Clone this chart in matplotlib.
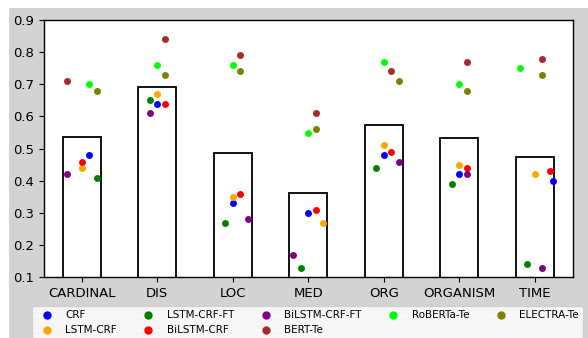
import numpy as np
import matplotlib
matplotlib.use('Agg')
import matplotlib.pyplot as plt
from matplotlib.lines import Line2D
from matplotlib.patches import Rectangle

categories = ['CARDINAL', 'DIS', 'LOC', 'MED', 'ORG', 'ORGANISM', 'TIME']
models = ['CRF', 'LSTM-CRF', 'LSTM-CRF-FT', 'BiLSTM-CRF',
          'BiLSTM-CRF-FT', 'BERT-Te', 'RoBERTa-Te', 'ELECTRA-Te']
colors = ['blue', 'orange', 'green', 'red',
          'purple', 'brown', 'lime', 'olive']

# scores per model, one value per category
crf = [0.48, 0.64, 0.33, 0.30, 0.48, 0.42, 0.40]
lstm_crf = [0.44, 0.67, 0.35, 0.27, 0.51, 0.45, 0.42]
lstm_crf_ft = [0.41, 0.65, 0.27, 0.13, 0.44, 0.39, 0.14]
bilstm_crf = [0.46, 0.64, 0.36, 0.31, 0.49, 0.44, 0.43]
bilstm_crf_ft = [0.42, 0.61, 0.28, 0.17, 0.46, 0.42, 0.13]
bert_te = [0.71, 0.84, 0.79, 0.61, 0.74, 0.77, 0.78]
roberta_te = [0.70, 0.76, 0.76, 0.55, 0.77, 0.70, 0.75]
electra_te = [0.68, 0.73, 0.74, 0.56, 0.71, 0.68, 0.73]
scores = [crf, lstm_crf, lstm_crf_ft, bilstm_crf,
          bilstm_crf_ft, bert_te, roberta_te, electra_te]

# strip jitter (category units)
jitter = [
    [0.1, 0.0, 0.0, 0.0, 0.0, 0.0, 0.24],
    [0.0, 0.0, 0.0, 0.2, 0.0, 0.0, 0.0],
    [0.2, -0.1, -0.1, -0.1, -0.1, -0.1, -0.1],
    [0.0, 0.1, 0.1, 0.1, 0.1, 0.1, 0.2],
    [-0.2, -0.1, 0.2, -0.2, 0.2, 0.1, 0.1],
    [-0.2, 0.1, 0.1, 0.1, 0.1, 0.1, 0.1],
    [0.1, 0.0, 0.0, 0.0, 0.0, 0.0, -0.2],
    [0.2, 0.1, 0.1, 0.1, 0.2, 0.1, 0.1],
]

W, H = 588, 338
fig = plt.figure(figsize=(W / 100, H / 100), dpi=100, facecolor='white')
# gray canvas with a thin white margin on the left and top
fig.add_artist(Rectangle((9 / W, 0), 1, 1 - 8 / H, transform=fig.transFigure,
                         facecolor='lightgray', edgecolor='none', zorder=-10))
ax = fig.add_axes([44 / W, 1 - 277.3 / H, (572.5 - 44) / W, (277.3 - 20) / H])
ax.set_facecolor('white')

x = np.arange(len(categories))
means = np.mean(np.array(scores), axis=0)
ax.bar(x, means, width=0.5, facecolor='white', edgecolor='black',
       linewidth=1.3, zorder=1)

for name, col, vals, jit in zip(models, colors, scores, jitter):
    ax.scatter(x + np.array(jit), vals, s=25, color=col, linewidths=0,
               zorder=3)

ax.set_xlim(-0.5, len(categories) - 0.5)
ax.set_ylim(0.1, 0.9)
ax.set_yticks(np.arange(0.1, 0.91, 0.1))
ax.set_yticklabels(['%.1f' % v for v in np.arange(0.1, 0.91, 0.1)])
ax.set_xticks(x)
ax.set_xticklabels(categories)
ax.tick_params(labelsize=9.5, length=3.5, width=0.8)
for sp in ax.spines.values():
    sp.set_linewidth(1.0)
    sp.set_color('black')

handles = [Line2D([], [], color='white', lw=1, marker='o', markersize=5,
                  markerfacecolor=c, markeredgecolor=c) for c in colors]
fig.legend(handles, models, loc='upper left',
           bbox_to_anchor=(32 / W, 1 - 306 / H), ncol=5, fontsize=7.5,
           frameon=True, borderaxespad=0)

fig.savefig('out.png', dpi=100, facecolor=fig.get_facecolor())
